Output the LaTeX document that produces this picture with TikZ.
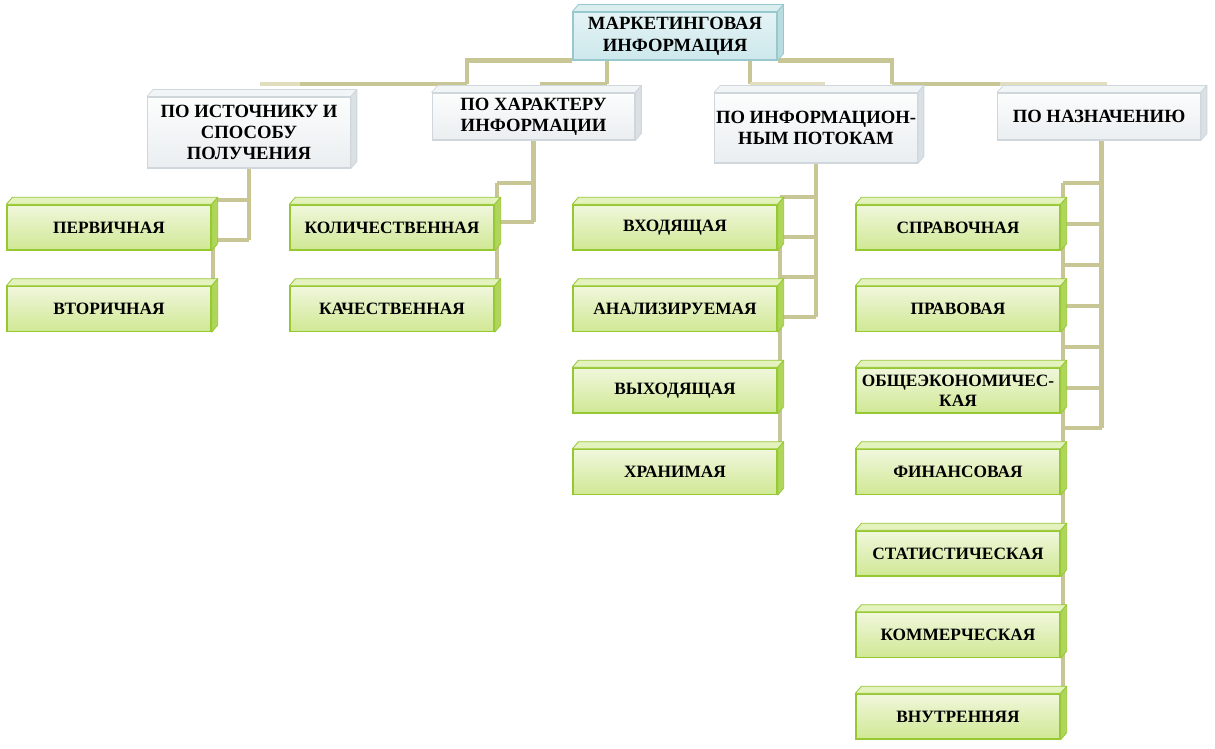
\documentclass[tikz,border=0pt]{standalone}
\usepackage{fontspec}
\setmainfont{Liberation Serif}
\usetikzlibrary{calc,backgrounds}

\definecolor{rootedge}{RGB}{150,200,205}
\definecolor{roottop}{RGB}{228,243,245}
\definecolor{rootbot}{RGB}{205,232,236}
\definecolor{rootside}{RGB}{185,220,224}
\definecolor{rootlid}{RGB}{218,238,240}
\definecolor{catedge}{RGB}{208,215,220}
\definecolor{cattop}{RGB}{252,253,253}
\definecolor{catbot}{RGB}{234,238,240}
\definecolor{catside}{RGB}{218,224,228}
\definecolor{catlid}{RGB}{242,245,246}
\definecolor{leafedge}{RGB}{150,200,50}
\definecolor{leaftop}{RGB}{240,247,220}
\definecolor{leafbot}{RGB}{208,232,148}
\definecolor{leafside}{RGB}{175,214,90}
\definecolor{leaflid}{RGB}{228,242,190}
\definecolor{connclr}{RGB}{200,198,148}
\definecolor{connfade}{RGB}{224,222,190}

% 3d lid and side of a box
\newcommand{\boxbevel}[4]{%
  \filldraw[draw=#4, fill=#2, line width=0.6pt, line join=round]
    (#1.north west) -- ++(6,-7) -- ($(#1.north east)+(6,-7)$) -- (#1.north east) -- cycle;
  \filldraw[draw=#4, fill=#3, line width=0.6pt, line join=round]
    (#1.north east) -- ++(6,-7) -- ($(#1.south east)+(6,-7)$) -- (#1.south east) -- cycle;
}

\begin{document}
\begin{tikzpicture}[x=0.75pt, y=-0.75pt]
        % Define block styles
        \tikzstyle{root} = [rectangle, draw=rootedge, line width=0.8pt, top color=roottop, bottom color=rootbot,
            minimum width=153pt, minimum height=36pt, align=center, inner sep=1pt,
            font=\bfseries\fontsize{14}{16.5}\selectfont]
        \tikzstyle{cat} = [rectangle, draw=catedge, line width=0.8pt, top color=cattop, bottom color=catbot,
            minimum width=152pt, align=center, inner sep=1pt,
            font=\bfseries\fontsize{14}{16}\selectfont]
        \tikzstyle{leaf} = [rectangle, draw=leafedge, line width=1pt, top color=leaftop, bottom color=leafbot,
            minimum width=153pt, minimum height=33.75pt, align=center, inner sep=1pt,
            font=\bfseries\fontsize{13}{15}\selectfont]
        \tikzstyle{conn} = [draw=connclr, line width=3.6pt]
        \tikzstyle{connlight} = [draw=connfade, line width=3.6pt]

        \useasboundingbox (0,0) rectangle (1215,749);

        % Nodes
        \node [root] (mkt) at (675,36) {МАРКЕТИНГОВАЯ\\ИНФОРМАЦИЯ};

        \node [cat, minimum height=53.25pt] (source) at (249,132.5) {ПО ИСТОЧНИКУ И\\СПОСОБУ\\ПОЛУЧЕНИЯ};
        \node [cat, minimum height=35.25pt] (nature) at (533.5,116.5) {ПО ХАРАКТЕРУ\\ИНФОРМАЦИИ};
        \node [cat, minimum height=52.5pt] (flows) at (816,128) {ПО ИНФОРМАЦИОН-\\НЫМ ПОТОКАМ};
        \node [cat, minimum height=35.25pt] (purpose) at (1099,116.5) {ПО НАЗНАЧЕНИЮ};

        \node [leaf] (primary) at (109,227.5) {ПЕРВИЧНАЯ};
        \node [leaf] (secondary) at (109,309) {ВТОРИЧНАЯ};

        \node [leaf] (quant) at (392,227.5) {КОЛИЧЕСТВЕННАЯ};
        \node [leaf] (qual) at (392,309) {КАЧЕСТВЕННАЯ};

        \node [leaf] (incoming) at (675,227.5) {ВХОДЯЩАЯ};
        \node [leaf] (analysed) at (675,309) {АНАЛИЗИРУЕМАЯ};
        \node [leaf] (outgoing) at (675,390.5) {ВЫХОДЯЩАЯ};
        \node [leaf] (stored) at (675,472) {ХРАНИМАЯ};

        \node [leaf] (reference) at (958,227.5) {СПРАВОЧНАЯ};
        \node [leaf] (legal) at (958,309) {ПРАВОВАЯ};
        \node [leaf] (economic) at (958,390.5) {ОБЩЕЭКОНОМИЧЕС-\\КАЯ};
        \node [leaf] (financial) at (958,472) {ФИНАНСОВАЯ};
        \node [leaf] (statistic) at (958,553.5) {СТАТИСТИЧЕСКАЯ};
        \node [leaf] (commercial) at (958,635) {КОММЕРЧЕСКАЯ};
        \node [leaf] (internal) at (958,716.5) {ВНУТРЕННЯЯ};

        % Box lids and sides
        \boxbevel{mkt}{rootlid}{rootside}{rootedge}
        \foreach \n in {source,nature,flows,purpose}
            {\boxbevel{\n}{catlid}{catside}{catedge}}
        \foreach \n in {primary,secondary,quant,qual,incoming,analysed,outgoing,stored,
                reference,legal,economic,financial,statistic,commercial,internal}
            {\boxbevel{\n}{leaflid}{leafside}{leafedge}}

        % Connectors
        \begin{pgfonlayer}{background}
            \coordinate (busA) at (467,84);
            \coordinate (busB) at (607,84);
            \coordinate (busC) at (750,84);
            \coordinate (busD) at (892,84);
            \path [conn] (busA) |- (mkt.south west);
            \path [conn] (busD) |- (mkt.south east);
            \path [conn] (busB) -- (busB |- mkt.south);
            \path [conn] (busC) -- (busC |- mkt.south);
            \path [connlight] (260,84) -- (300,84);
            \path [conn] (300,84) -- (busA) -- (433,84);
            \path [conn] (540,84) -- (busB);
            \path [connlight] (busC) -- (825,84);
            \path [conn] (busD) -- (1000,84);
            \path [connlight] (1000,84) -- (1107,84);

            \path [conn] (source.south) -- (source.south |- 0,240);
            \foreach \y in {200,240}
                \path [conn] (source.south |- 0,\y) -- (213,\y);
            \path [conn] (213,200) -- (213,305);

            \path [conn] (nature.south) -- (nature.south |- 0,222);
            \foreach \y in {183,222}
                \path [conn] (nature.south |- 0,\y) -- (497,\y);
            \path [conn] (497,183) -- (497,305);

            \path [conn] (flows.south) -- (flows.south |- 0,317);
            \foreach \y in {197,237,277,317}
                \path [conn] (flows.south |- 0,\y) -- (780,\y);
            \path [conn] (780,197) -- (780,470);

            \path [conn] ([xshift=2pt]purpose.south) -- ([xshift=2pt]purpose.south |- 0,428);
            \foreach \y in {183,224,265,306,347,388,428}
                \path [conn] ([xshift=2pt]purpose.south |- 0,\y) -- (1063,\y);
            \path [conn] (1063,183) -- (1063,715);
        \end{pgfonlayer}
    \end{tikzpicture}
\end{document}
